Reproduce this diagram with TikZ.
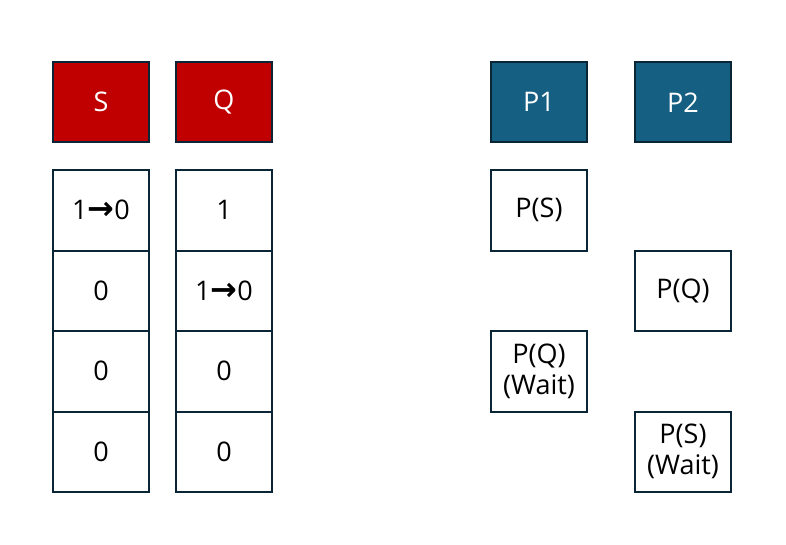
\documentclass[tikz,border=0pt]{standalone}
\usepackage{fontspec}
\setmainfont{Open Sans}
\newfontfamily\symfont{DejaVu Sans}
\definecolor{edgec}{HTML}{0A2535}
\definecolor{redc}{HTML}{C00000}
\definecolor{bluec}{HTML}{156082}
\begin{document}
\begin{tikzpicture}[x=1pt,y=-1pt,
  cell/.style={draw=edgec,line width=2pt,minimum width=96pt,minimum height=80.5pt,inner sep=0pt,anchor=north west,font=\fontsize{27}{31}\selectfont,align=center},
  redhead/.style={cell,fill=redc,text=white},
  bluehead/.style={cell,fill=bluec,text=white}]
\useasboundingbox (0,0) rectangle (786,545);
\newcommand{\arr}{{\symfont\bfseries\fontsize{32}{31}\selectfont →}}
\node[redhead] (S) at (52,61) {S};
\node[redhead] (Q) at (175,61) {Q};
\node[bluehead] (P1) at (490,61) {P1};
\node[bluehead] (P2) at (634,61) {P2};
\node[cell] (s1) at (52,169) {1\arr0};
\node[cell] (s2) at (52,249.5) {0};
\node[cell] (s3) at (52,330) {0};
\node[cell] (s4) at (52,410.5) {0};
\node[cell] (q1) at (175,169) {1};
\node[cell] (q2) at (175,249.5) {1\arr0};
\node[cell] (q3) at (175,330) {0};
\node[cell] (q4) at (175,410.5) {0};
\node[cell] (a1) at (490,169) {P(S)};
\node[cell] (a2) at (490,330) {P(Q)\\(Wait)};
\node[cell] (b1) at (634,249.5) {P(Q)};
\node[cell] (b2) at (634,410.5) {P(S)\\(Wait)};
\end{tikzpicture}
\end{document}
